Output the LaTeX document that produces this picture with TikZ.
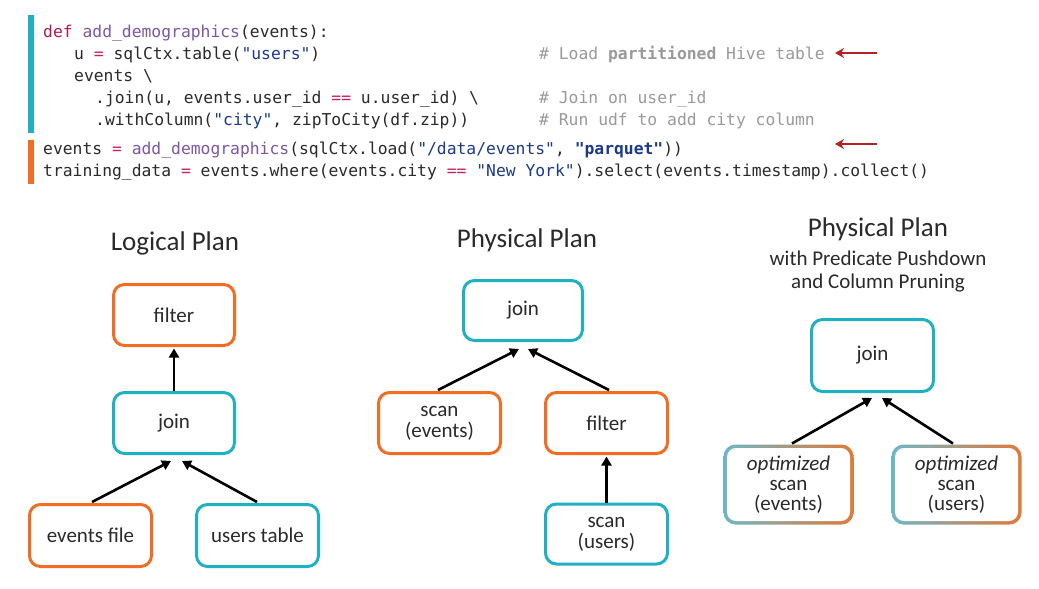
\documentclass[tikz,border=0pt]{standalone}
\usepackage{fontspec}
\setmainfont{Carlito}
\setmonofont{DejaVu Sans Mono}
\usetikzlibrary{arrows.meta,calc,backgrounds}
\definecolor{cyanb}{HTML}{1FB0C4}
\definecolor{orangeb}{HTML}{F26D24}
\definecolor{gcyan}{HTML}{6DB6C6}
\definecolor{gorange}{HTML}{E07A38}
\definecolor{txt}{HTML}{2A2A2A}
\definecolor{kw}{HTML}{B3195A}
\definecolor{fn}{HTML}{7D57A6}
\definecolor{str}{HTML}{1C3A8C}
\definecolor{op}{HTML}{C8205E}
\definecolor{cmt}{HTML}{9A9A9A}
\definecolor{redarr}{HTML}{B52222}
\newcommand{\K}[1]{\textcolor{kw}{#1}}
\newcommand{\F}[1]{\textcolor{fn}{#1}}
\newcommand{\Sq}[1]{\textcolor{str}{#1}}
\newcommand{\Op}[1]{\textcolor{op}{#1}}
\begin{document}
\begin{tikzpicture}[x=1pt,y=-1pt,
  code/.style={anchor=base west,inner sep=0pt,text=txt,font=\fontsize{16.35}{20}\ttfamily},
  cmtn/.style={anchor=base west,inner sep=0pt,text=cmt,font=\fontsize{16.35}{20}\ttfamily},
  boxbase/.style={line width=3pt,rounded corners=11pt,align=center,text=txt,
    font=\fontsize{21}{21}\selectfont},
  obox/.style={boxbase,draw=orangeb},
  cbox/.style={boxbase,draw=cyanb},
  gbox/.style={boxbase,draw=none,font=\fontsize{21}{20}\selectfont},
  title/.style={text=txt,font=\fontsize{27}{27}\selectfont,inner sep=0pt},
  subtitle/.style={text=txt,font=\fontsize{21}{21}\selectfont,inner sep=0pt},
  arr/.style={line width=2.6pt,-{Triangle[length=9pt,width=10pt]}},
  redarrow/.style={draw=redarr,line width=2.6pt,-{Stealth[length=9pt,width=10pt]}}
]
\useasboundingbox (0,0) rectangle (1039,589);

% bars
\fill[cyanb] (28,15) rectangle (34,133);
\fill[orangeb] (28,140) rectangle (34,184);

% code
\node[code] (c1) at (43,37) {\K{def} \F{add\_demographics}(events):};
\node[code] (c2) at (74,59) {u \Op{=} sqlCtx.table(\Sq{"users"})};
\node[code] (c3) at (74,81) {events \textbackslash};
\node[code] (c4) at (95,103) {.join(u, events.user\_id \Op{==} u.user\_id) \textbackslash};
\node[code] (c5) at (95,125) {.withColumn(\Sq{"city"}, zipToCity(df.zip))};
\node[code] (c6) at (43,154) {events \Op{=} \F{add\_demographics}(sqlCtx.load(\Sq{"/data/events"}, \Sq{\bfseries"parquet"}))};
\node[code] (c7) at (43,176) {training\_data \Op{=} events.where(events.city \Op{==} \Sq{"New York"}).select(events.timestamp).collect()};
\node[cmtn] (m1) at (539,59) {\# Load \textbf{partitioned} Hive table};
\node[cmtn] (m2) at (539,103) {\# Join on user\_id};
\node[cmtn] (m3) at (539,125) {\# Run udf to add city column};

% red arrows
\coordinate (ra1s) at (877,53);
\coordinate (ra1e) at (835,53);
\coordinate (ra2s) at (877,144);
\coordinate (ra2e) at (835,144);
\draw[redarrow] (ra1s) -- (ra1e);
\draw[redarrow] (ra2s) -- (ra2e);

% Logical plan
\node[title] (t1) at (175,243) {Logical Plan};
\node[obox,minimum width=121pt,minimum height=61pt] (lf) at (174,315) {filter};
\node[cbox,minimum width=121pt,minimum height=61pt] (lj) at (174,423) {join};
\node[obox,minimum width=122pt,minimum height=62pt] (ef) at (90.5,535.5) {events file};
\node[cbox,minimum width=122pt,minimum height=62pt] (ut) at (257.5,535.5) {users table};
\draw[arr] (lj.north) -- ($(lf.south)+(0,1.5)$);
\draw[arr] ($(ef.north)+(1.5,-1)$) -- ($(lj.south)+(-3,6)$);
\draw[arr] ($(ut.north)+(-0.5,-1)$) -- ($(lj.south)+(8,6)$);

% Physical plan
\node[title] (t2) at (527,240) {Physical Plan};
\node[cbox,minimum width=119pt,minimum height=60pt] (pj) at (523,310.5) {join};
\node[obox,minimum width=122pt,minimum height=61pt] (se) at (439.5,423) {scan\\(events)};
\node[obox,minimum width=122pt,minimum height=61pt] (pf) at (606.5,423) {filter};
\node[cbox,minimum width=122pt,minimum height=60pt] (su) at (606.5,534) {scan\\(users)};
\draw[arr] ($(se.north)+(-1.5,-1)$) -- ($(pj.south)+(-4,7)$);
\draw[arr] ($(pf.north)+(2.5,-1)$) -- ($(pj.south)+(5,7)$);
\draw[arr] (su.north) -- ($(pf.south)+(0,1.5)$);

% Optimized physical plan
\node[title] (t3) at (878,229) {Physical Plan};
\node[subtitle] (t3b) at (878,258) {with Predicate Pushdown};
\node[subtitle] (t3c) at (878,283) {and Column Pruning};
\node[cbox,minimum width=122pt,minimum height=72pt] (tj) at (872.5,355.5) {join};
\node[gbox,minimum width=127pt,minimum height=77pt] (oe) at (788.5,484.5) {\textit{optimized}\\scan\\(events)};
\node[gbox,minimum width=127pt,minimum height=77pt] (ou) at (956.5,484.5) {\textit{optimized}\\scan\\(users)};
\begin{scope}[on background layer]
\fill[white] (0,0) rectangle (1039,589);
\foreach \n in {oe,ou}{
  \shade[left color=gcyan,right color=gorange,rounded corners=12pt] (\n.south west) rectangle (\n.north east);
  \fill[white,rounded corners=9pt] ($(\n.south west)+(3.5,-3.5)$) rectangle ($(\n.north east)+(-3.5,3.5)$);
}
\end{scope}
\draw[arr] ($(oe.north)+(3.5,-1)$) -- ($(tj.south)+(-0.5,5)$);
\draw[arr] ($(ou.north)+(-3.5,-1)$) -- ($(tj.south)+(9.5,5)$);
\end{tikzpicture}
\end{document}
